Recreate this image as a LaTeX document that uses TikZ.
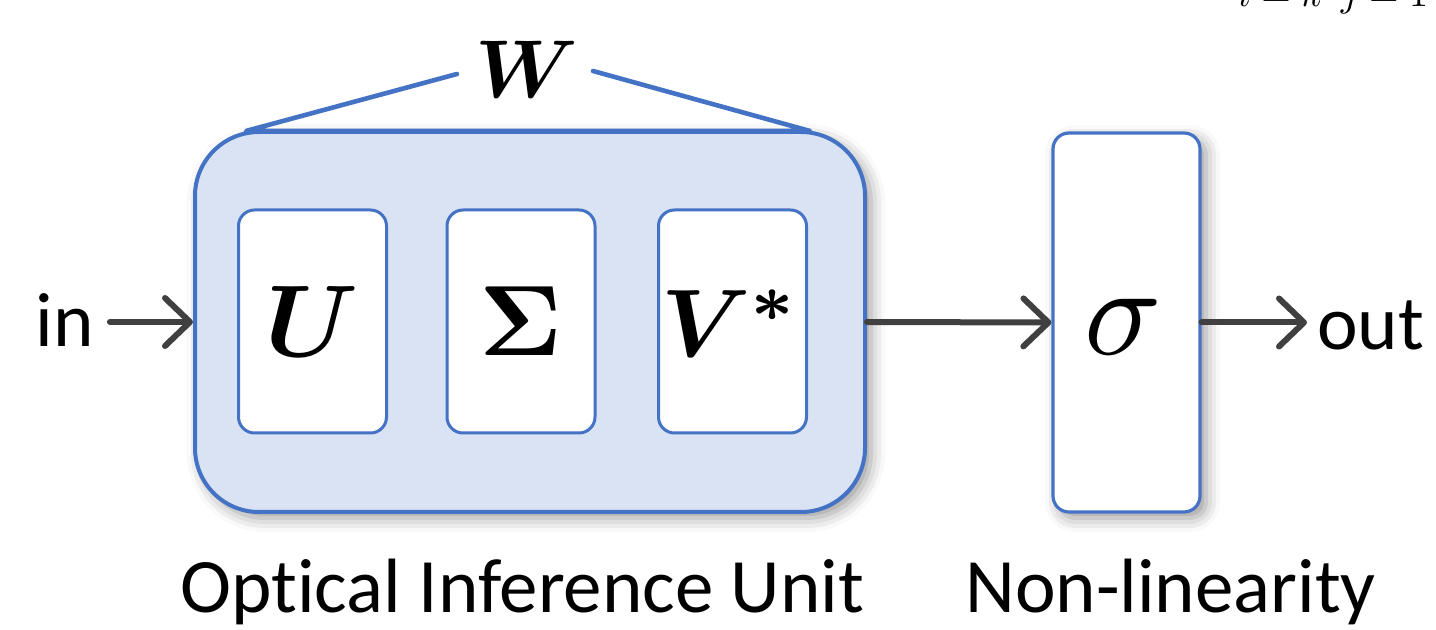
\documentclass[tikz,border=0pt]{standalone}
\usepackage{fontspec}
\setmainfont{Carlito}[Ligatures=NoCommon]
\usepackage{amsmath}
\usetikzlibrary{arrows.meta,calc,shadows.blur}

\definecolor{oiublue}{HTML}{4472C4}
\definecolor{oiufill}{HTML}{DAE3F3}
\definecolor{arrowgray}{HTML}{404040}

\tikzset{
  unitbox/.style={draw=oiublue, line width=2pt, fill=oiufill, rounded corners=32pt,
    minimum width=335pt, minimum height=190pt, inner sep=0pt,
    blur shadow={shadow xshift=3pt, shadow yshift=-3pt, shadow blur radius=7pt, shadow opacity=40}},
  factorbox/.style={draw=oiublue, line width=1.5pt, fill=white, rounded corners=8pt,
    minimum width=74pt, minimum height=111.5pt, inner sep=0pt},
  nlbox/.style={draw=oiublue, line width=1.6pt, fill=white, rounded corners=8pt,
    minimum width=73.5pt, minimum height=189.5pt, inner sep=0pt,
    blur shadow={shadow xshift=3pt, shadow yshift=-3pt, shadow blur radius=7pt, shadow opacity=40}},
  conn/.style={draw=arrowgray, line width=3pt, line cap=round,
    -{Straight Barb[length=12.5pt, width=24pt, round]}},
  label/.style={inner sep=0pt, font=\fontsize{38.5}{46}\selectfont},
  brace/.style={draw=oiublue, line width=2.3pt, line cap=round, line join=round}
}

\begin{document}
\begin{tikzpicture}[x=0.5pt, y=-0.5pt]
  \useasboundingbox (0,0) rectangle (1436,630);

  % summation limits running off the upper right edge
  \node[anchor=base west, inner sep=0pt, scale=1.9] (lima) at (1237,7) {$i=k$};
  \node[anchor=base west, inner sep=0pt, scale=1.9] (limb) at (1340,7) {$j=1$};

  % optical inference unit with its three factors
  \node[unitbox] (oiu) at (530,322) {};
  \node[factorbox] (fu) at (312.5,321.5) {};
  \node[factorbox] (fs) at (521,321.5) {};
  \node[factorbox] (fv) at (732.5,321.5) {};
  \node[scale=5.1] at (fu) {$\boldsymbol{U}$};
  \node[scale=5] at (fs) {$\boldsymbol{\Sigma}$};
  \node[scale=4.8] at ($(fv)+(-2,2)$) {$\boldsymbol{V^{*}}$};

  % W spanning the unit
  \node[inner sep=0pt, scale=4.1] (wlbl) at (527,69) {$\boldsymbol{W}$};
  \coordinate (wtl) at (457,74);
  \coordinate (wbl) at (246,131);
  \coordinate (wbr) at (810,131);
  \coordinate (wtr) at (593,71);
  \draw[brace] (wtl) -- (wbl) -- (wbr) -- (wtr);

  % non-linearity
  \node[nlbox] (sig) at (1126.5,322.5) {};
  \node[scale=6.4] at ($(sig)+(-3,4)$) {$\sigma$};

  % labels
  \node[label, anchor=base west] (inlbl) at (35,347) {in};
  \node[label, anchor=base west] (outlbl) at (1317,350) {out};
  \node[label, anchor=base west] (oiulbl) at (180,612) {Optical Inference Unit};
  \node[label, anchor=base west] (nllbl) at (965,612) {Non-linearity};

  % signal flow
  \draw[conn, shorten <=8pt] (inlbl.east |- oiu.west) -- (oiu.west);
  \draw[conn] (oiu.east) -- (sig.west);
  \draw[conn, shorten >=5pt] (sig.east) -- (outlbl.west |- sig.east);
\end{tikzpicture}
\end{document}
